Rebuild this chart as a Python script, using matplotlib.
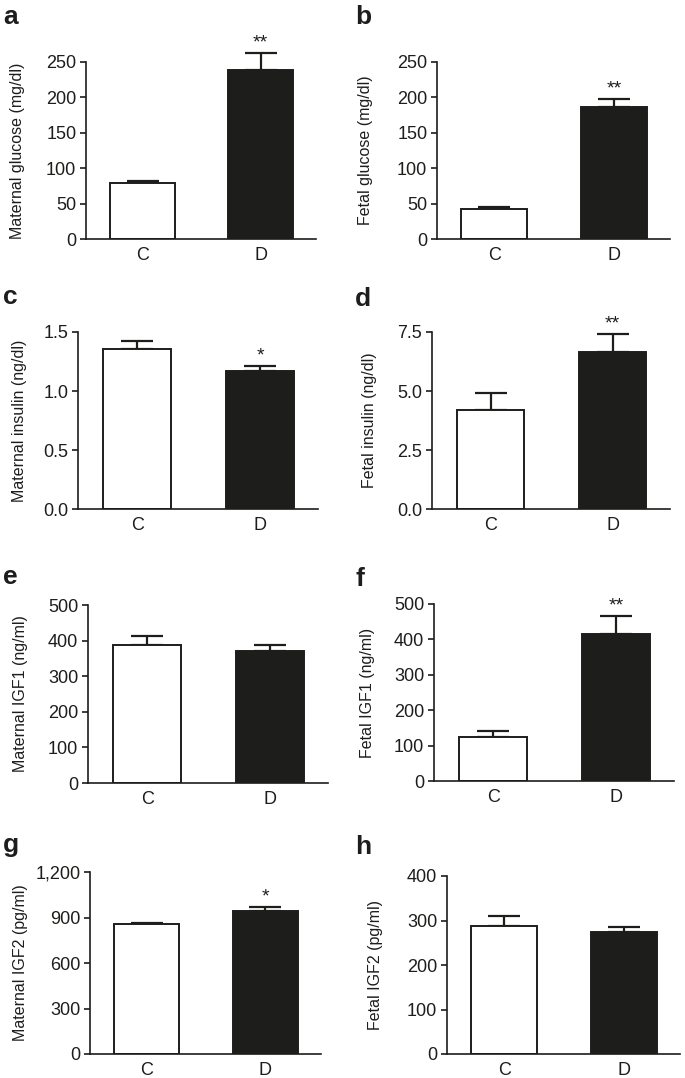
#!/usr/bin/env python
# -*- coding: utf-8 -*-

import matplotlib
matplotlib.use('Agg')  # Use non-interactive backend
import matplotlib.pyplot as plt
from matplotlib.ticker import MultipleLocator, StrMethodFormatter
import numpy as np

# Data (mean and upper SEM per group)
groups = ['C', 'D']
panel_letters = ['a', 'b', 'c', 'd', 'e', 'f', 'g', 'h']
ylabels = ['Maternal glucose (mg/dl)', 'Fetal glucose (mg/dl)',
           'Maternal insulin (ng/dl)', 'Fetal insulin (ng/dl)',
           'Maternal IGF1 (ng/ml)', 'Fetal IGF1 (ng/ml)',
           'Maternal IGF2 (pg/ml)', 'Fetal IGF2 (pg/ml)']
control_mean = [79, 42, 1.36, 4.19, 387, 124, 855, 288]
control_sem = [3, 3.5, 0.065, 0.71, 26, 18, 7, 21]
diabetic_mean = [238, 187, 1.167, 6.67, 370, 414, 943, 275]
diabetic_sem = [25, 10.5, 0.042, 0.75, 19, 52, 26, 10]
stars = ['**', '**', '*', '**', '', '**', '*', '']
ymax = [250, 250, 1.5, 7.5, 500, 500, 1200, 400]
ystep = [50, 50, 0.5, 2.5, 100, 100, 300, 100]
yfmt = ['{x:.0f}', '{x:.0f}', '{x:.1f}', '{x:.1f}',
        '{x:.0f}', '{x:.0f}', '{x:,.0f}', '{x:.0f}']

# Layout in pixels: axis left, axis right, zero line y, top tick y, ylabel offset
W, H = 685, 1078
boxes = [(86, 316, 239, 62, 61), (437, 670, 239, 62, 64),
         (78, 318, 509, 332, 51), (432, 670, 509, 332, 55),
         (88, 328, 783, 605, 60), (434, 674, 781, 604, 59),
         (90, 321, 1054, 872, 62), (447, 680, 1054, 876, 64)]
letter_pos = [(3, 24), (355, 24), (3, 304), (355, 306),
              (3, 584), (355, 586), (3, 852), (355, 854)]

ink = '#1d1d1b'
plt.rcParams['font.family'] = ['Liberation Sans', 'DejaVu Sans']
plt.rcParams['text.color'] = ink

fig = plt.figure(figsize=(W / 100, H / 100), dpi=100)

for i in range(8):
    x0, x1, y0, y1, off = boxes[i]
    ax = fig.add_axes([x0 / W, 1 - y0 / H, (x1 - x0) / W, (y0 - y1) / H])
    means = [control_mean[i], diabetic_mean[i]]
    sems = [control_sem[i], diabetic_sem[i]]
    xpos = np.arange(len(groups))

    eb = ax.errorbar(xpos, means, yerr=[[0, 0], sems], fmt='none', ecolor=ink,
                     elinewidth=1.6, capsize=11.5, capthick=1.6, zorder=1)
    for art in eb.lines[1] + eb.lines[2]:
        art.set_clip_on(False)
    ax.bar(xpos, means, width=0.55, color=['white', ink], edgecolor=ink,
           linewidth=1.4, zorder=2)

    if stars[i]:
        ax.annotate(stars[i], (1, diabetic_mean[i] + diabetic_sem[i]),
                    xytext=(0, 1), textcoords='offset points',
                    ha='center', va='bottom', fontsize=14, color=ink,
                    annotation_clip=False)

    ax.set_xlim(-0.48, 1.47)
    ax.set_ylim(0, ymax[i])
    ax.yaxis.set_major_locator(MultipleLocator(ystep[i]))
    ax.yaxis.set_major_formatter(StrMethodFormatter(yfmt[i]))
    ax.set_xticks(xpos)
    ax.set_xticklabels(groups)
    ax.tick_params(axis='x', length=0, pad=6, labelsize=13, colors=ink)
    ax.tick_params(axis='y', length=4, width=1.2, pad=3, labelsize=13,
                   colors=ink)
    for side in ['top', 'right']:
        ax.spines[side].set_visible(False)
    for side in ['left', 'bottom']:
        ax.spines[side].set_linewidth(1.2)
        ax.spines[side].set_color(ink)
    ax.set_ylabel(ylabels[i], fontsize=11.5, color=ink)
    ax.yaxis.set_label_coords(-off / (x1 - x0), 0.5)

    lx, ly = letter_pos[i]
    fig.text(lx / W, 1 - ly / H, panel_letters[i], fontsize=19,
             fontweight='bold', color=ink, ha='left', va='baseline')

plt.savefig('out.png', dpi=100)
plt.close()
